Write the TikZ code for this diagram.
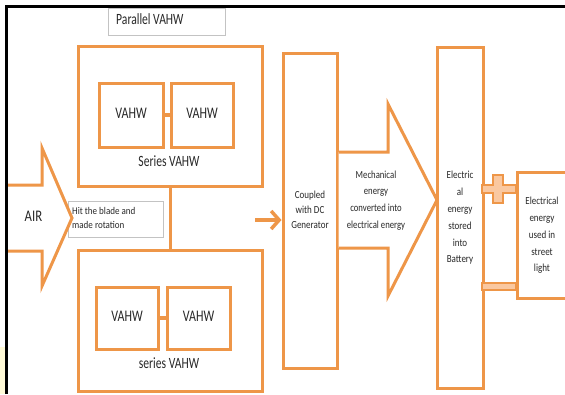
\documentclass[tikz,border=0pt]{standalone}
\usepackage{fontspec}
\setmainfont{Carlito}
\usetikzlibrary{arrows.meta}
\definecolor{org}{RGB}{238,150,72}
\definecolor{peach}{RGB}{250,200,160}
\definecolor{txt}{RGB}{40,40,40}
\definecolor{gbox}{RGB}{195,195,195}
\definecolor{paleyel}{RGB}{255,250,215}
\newcommand\lns[4]{\scalebox{#1}[1.08]{\fontsize{#2}{#3}\selectfont\begin{tabular}{@{}c@{}}#4\end{tabular}}}
\begin{document}
\begin{tikzpicture}[x=1pt,y=-1pt,
  obox/.style={draw=org,line width=3pt,fill=white,inner sep=0pt,text=txt},
  gbx/.style={draw=gbox,line width=0.8pt,fill=white,inner sep=0pt,text=txt},
  lbl/.style={inner sep=0pt,text=txt},
  conn/.style={draw=org,line width=3pt},
  bigarrow/.style={draw=org,line width=3pt,fill=white,line join=miter},
  pm/.style={draw=org,line width=1.2pt,fill=peach}]
\useasboundingbox (0,0) rectangle (565,394);
\fill[white] (0,0) rectangle (565,394);
\fill[paleyel] (0,347) rectangle (5,394);

% Parallel label
\node[gbx,minimum width=117pt,minimum height=27pt] (par) at (166.5,21.5) {};
\node[lbl,anchor=west] (partxt) at (116,21.5) {\lns{0.8}{14.5}{16}{Parallel VAHW}};

% top series group
\node[obox,minimum width=184pt,minimum height=140pt] (topbox) at (170,116) {};
\node[obox,minimum width=64pt,minimum height=64pt] (v1) at (131,115) {\lns{0.8}{15}{16}{VAHW}};
\node[obox,minimum width=62pt,minimum height=64pt] (v2) at (202,115) {\lns{0.8}{15}{16}{VAHW}};
\draw[conn,line width=4pt] (v1.east) -- (v2.west);
\node[lbl] (ser1) at (169,163) {\lns{0.8}{14.5}{16}{Series VAHW}};

% bottom series group
\node[obox,minimum width=184pt,minimum height=141pt] (botbox) at (170,320.5) {};
\node[obox,minimum width=62pt,minimum height=62pt] (v3) at (127,318) {\lns{0.8}{15}{16}{VAHW}};
\node[obox,minimum width=63pt,minimum height=62pt] (v4) at (198.5,318) {\lns{0.8}{15}{16}{VAHW}};
\draw[conn,line width=4pt] (v3.east) -- (v4.west);
\node[lbl] (ser2) at (169,365) {\lns{0.8}{14.5}{16}{series VAHW}};

% parallel link
\draw[conn] (topbox.south) -- (botbox.north);

% hit box
\node[gbx,minimum width=95pt,minimum height=36pt] (hit) at (115.5,219) {};
\node[lbl,anchor=west] (hittxt) at (72,219) {\scalebox{0.95}[1.08]{\fontsize{9.5}{12.5}\selectfont\begin{tabular}{@{}l@{}}Hit the blade and\\made rotation\end{tabular}}};

% AIR arrow
\draw[bigarrow] (8,185) -- (42,185) -- (42,148) -- (72,218) -- (42,286) -- (42,251) -- (8,251);
\node[lbl] (air) at (33.5,218) {\lns{0.85}{15}{16}{AIR}};

% generator
\node[obox,minimum width=54pt,minimum height=315pt] (gen) at (310,210.5) {\lns{0.9}{10}{13.5}{Coupled\\with DC\\Generator}};
\coordinate (ain) at (255,220);
\draw[conn,line width=3.5pt,-{Straight Barb[length=8pt,width=18pt]}] (ain) -- (ain -| gen.west);

% mechanical arrow
\draw[bigarrow] (gen.east |- 0,152) -- (388,152) -- (388,104) -- (437,200) -- (388,296) -- (388,248) -- (gen.east |- 0,248);
\node[lbl] (mech) at (376,200) {\lns{0.87}{10}{15.5}{Mechanical\\energy\\converted into\\electrical energy}};

% battery
\node[obox,minimum width=46pt,minimum height=341pt] (batt) at (460,217.5) {\lns{0.9}{10}{15.6}{Electric\\al\\energy\\stored\\into\\Battery}};

% street light
\node[obox,minimum width=50pt,minimum height=126pt] (light) at (542,235) {\lns{0.9}{10}{15.5}{Electrical\\energy\\used in\\street\\light}};

% plus and minus terminals
\draw[pm] (482,185) -- (493,185) -- (493,175) -- (503,175) -- (503,185) -- (516,185) -- (516,193) -- (503,193) -- (503,203) -- (493,203) -- (493,193) -- (482,193) -- cycle;
\draw[pm] (482,283) rectangle (516,290);

% frame
\draw[black,line width=3pt] (6.5,394) -- (6.5,6) -- (565,6);
\end{tikzpicture}
\end{document}
